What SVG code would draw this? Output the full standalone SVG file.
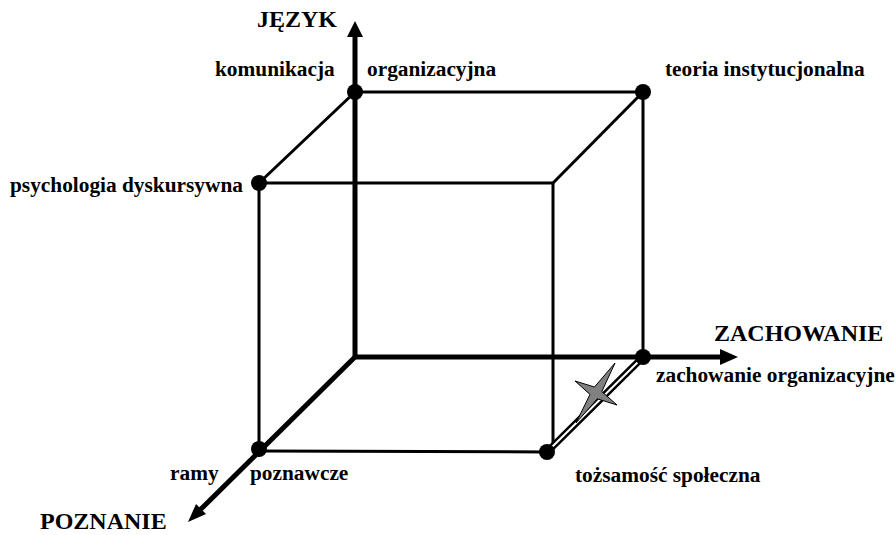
<svg xmlns="http://www.w3.org/2000/svg" width="896" height="535" viewBox="0 0 896 535">
<style>
.t{font-family:"Liberation Serif","Times New Roman",serif;font-weight:bold;font-size:21.33px;fill:#000}
.ax{font-family:"Liberation Serif","Times New Roman",serif;font-weight:bold;font-size:24px;fill:#000}
.e{stroke:#000;stroke-width:3;fill:none}
.a{stroke:#000;stroke-width:5;fill:none}
.d{fill:#000}
</style>
<rect width="896" height="535" fill="#fff"/>
<g id="connectors">
  <line class="e" x1="355" y1="92" x2="643" y2="92"/>
  <line class="e" x1="643" y1="92" x2="643" y2="357"/>
  <line class="e" x1="259" y1="183" x2="553" y2="183"/>
  <line class="e" x1="259" y1="183" x2="259" y2="451"/>
  <line class="e" x1="553" y1="183" x2="553" y2="450"/>
  <line class="e" x1="259" y1="451" x2="547" y2="452"/>
  <line class="e" x1="355" y1="92" x2="259" y2="183"/>
  <line class="e" x1="643" y1="92" x2="553" y2="183"/>
  <line stroke="#000" stroke-width="7" x1="643" y1="357" x2="547" y2="452"/>
  <line stroke="#fff" stroke-width="2" x1="641" y1="359" x2="549" y2="450"/>
  <line class="a" x1="355" y1="359" x2="355" y2="34"/>
  <polygon class="d" points="355,21 347,37 363,37"/>
  <line class="a" x1="353" y1="357" x2="722" y2="357"/>
  <polygon class="d" points="738,357 720,349 720,365"/>
  <line class="a" x1="357" y1="355" x2="199" y2="511"/>
  <polygon class="d" points="188,522 206,514 196,504"/>
</g>
<g id="axis-jezyk"><text class="ax" x="337" y="27" text-anchor="end">JĘZYK</text></g>
<g id="axis-zachowanie"><text class="ax" x="714" y="341">ZACHOWANIE</text></g>
<g id="axis-poznanie"><text class="ax" x="40" y="529">POZNANIE</text></g>
<g id="node-komunikacja">
  <circle class="d" cx="355" cy="92" r="8"/>
  <text class="t" x="215" y="76">komunikacja</text>
  <text class="t" x="367" y="76">organizacyjna</text>
</g>
<g id="node-teoria">
  <circle class="d" cx="643" cy="92" r="8"/>
  <text class="t" x="665" y="76">teoria instytucjonalna</text>
</g>
<g id="node-psychologia">
  <circle class="d" cx="259" cy="183" r="8"/>
  <text class="t" x="10" y="192">psychologia dyskursywna</text>
</g>
<g id="node-zachowanie">
  <circle class="d" cx="643" cy="357" r="8"/>
  <text class="t" x="656" y="382">zachowanie organizacyjne</text>
</g>
<g id="node-ramy">
  <circle class="d" cx="259" cy="449" r="8"/>
  <text class="t" x="170" y="480">ramy</text>
  <text class="t" x="250" y="480">poznawcze</text>
</g>
<g id="node-tozsamosc">
  <circle class="d" cx="547" cy="452" r="8"/>
  <text class="t" x="575" y="482">tożsamość społeczna</text>
</g>
<g id="star">
  <polygon fill="#808080" stroke="#000" stroke-width="1" points="615,363 601.8,391.6 617,405 597.4,398.8 576,423 590,394.4 575,381 594.5,387"/>
</g>
</svg>
